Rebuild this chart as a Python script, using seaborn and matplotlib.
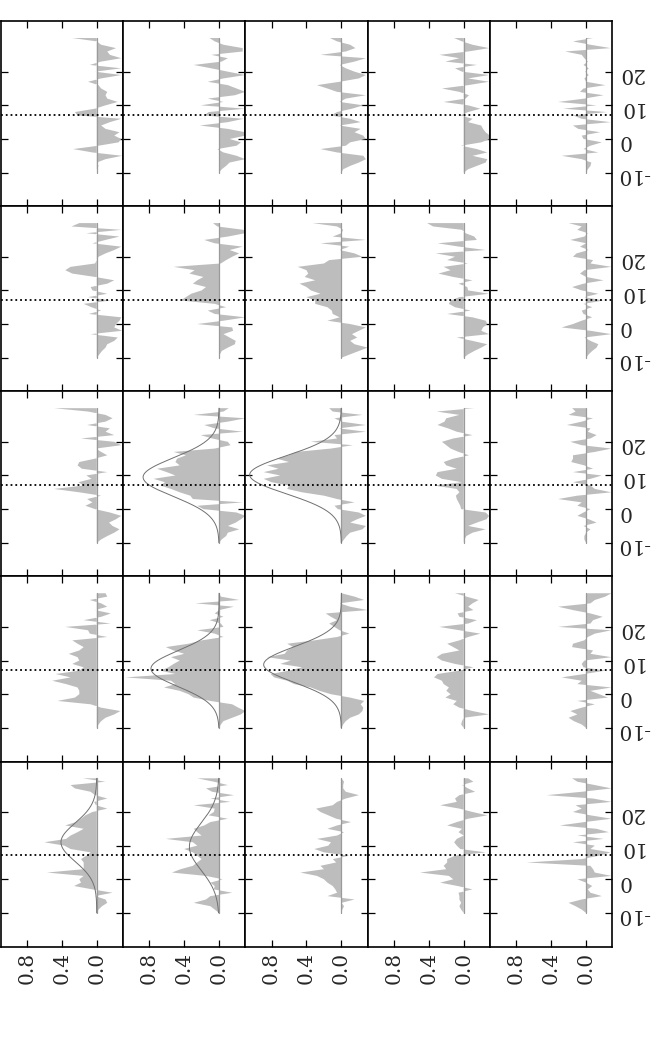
import numpy as np
import matplotlib
matplotlib.use("Agg")
import matplotlib.pyplot as plt
import seaborn as sns

sns.set_style("ticks")
plt.rcParams["font.family"] = ["DejaVu Serif"]
plt.rcParams["axes.unicode_minus"] = False

# sample positions shared by all 25 panels
t_grid = list(range(-10, 31))

# dotted reference line
true_value = 7.2

# panel values, row by row (top -> bottom), t = -10 .. 30
d11 = [0, 0, -0.02, 0, -0.1, -0.29, 0.05, 0.27, -0.02, -0.25,
       -0.28, -0.2, -0.26, -0.1, -0.05, -0.15, -0.28, 0.22, 0.25, 0.02,
       -0.1, -0.24, -0.12, -0.1, -0.12, -0.05, -0.02, 0.1, -0.05, -0.28,
       0.02, -0.28, 0.08, -0.05, -0.28, -0.15, -0.12, -0.22, -0.05, 0, 0.28]
d12 = [0, -0.03, -0.08, -0.12, -0.3, -0.2, -0.05, 0.02, -0.2, -0.25,
       -0.12, -0.3, -0.3, -0.1, 0.22, -0.1, -0.28, 0.17, 0.12, -0.3,
       0.21, -0.05, 0.13, -0.18, -0.3, -0.2, -0.1, 0.13, -0.05, -0.3,
       -0.1, 0.09, 0.29, -0.03, -0.1, 0.09, -0.27, -0.27, -0.05, 0.05, 0.11]
d13 = [0, -0.02, -0.1, -0.2, -0.28, -0.25, 0.05, 0.24, -0.05, -0.1,
       -0.28, -0.25, -0.15, -0.22, 0.02, -0.22, -0.1, 0.12, 0.05, -0.12,
       -0.25, 0.02, -0.05, -0.28, 0.05, 0.16, 0.28, 0.02, -0.2, -0.28,
       -0.15, -0.05, 0.02, -0.15, -0.28, 0.24, -0.05, -0.16, -0.1, 0.05, 0.13]
d14 = [0, -0.05, -0.15, -0.25, -0.27, -0.1, -0.27, -0.15, 0.03, -0.2,
       -0.3, -0.3, -0.25, -0.22, -0.2, -0.05, -0.1, 0.04, -0.05, -0.19,
       -0.05, 0.23, -0.02, -0.06, 0.05, 0.25, -0.05, -0.29, -0.05, -0.29,
       0.02, 0.1, -0.15, 0.21, 0.05, 0.28, -0.05, -0.29, -0.1, 0.02, 0.11]
d15 = [0, -0.02, -0.05, -0.06, 0.05, 0.28, -0.14, 0.03, -0.05, -0.18,
       0.03, 0.05, -0.16, 0.09, 0.15, -0.28, 0.05, 0.15, -0.24, 0.26,
       -0.12, 0.32, 0.02, -0.2, 0.07, 0.03, -0.22, 0.0, 0.02, -0.03,
       0.01, -0.03, 0.03, -0.02, 0.02, 0.05, 0.24, -0.28, -0.05, 0.15, -0.08]

d21 = [0, -0.03, -0.06, -0.1, -0.12, -0.2, -0.24, 0.07, -0.29, -0.2,
       -0.22, -0.26, -0.28, 0.09, -0.05, 0.06, 0.15, -0.16, 0.1, -0.12,
       0.05, 0.07, -0.12, -0.2, 0.02, 0.28, 0.36, 0.3, 0.02, 0.0,
       -0.02, -0.1, -0.2, -0.28, 0.05, -0.1, -0.26, 0.12, -0.28, 0.29, 0.2]
d22 = [0, -0.01, -0.03, -0.1, -0.18, -0.19, -0.12, -0.05, -0.16, -0.15,
       0.25, -0.05, -0.3, 0.05, 0.13, -0.08, 0.05, 0.44, 0.38, 0.32,
       0.2, 0.15, 0.3, 0.25, 0.18, 0.34, 0.28, 0.52, -0.02, -0.08,
       -0.15, -0.23, -0.12, -0.27, 0.05, 0.17, -0.1, -0.3, -0.28, 0.02, 0.07]
d23 = [0, -0.1, -0.2, -0.3, -0.15, -0.1, -0.18, -0.12, -0.2, -0.28,
       -0.1, 0.16, 0.02, 0.1, 0.11, 0.16, 0.3, 0.3, 0.4, 0.24,
       0.35, 0.4, 0.48, 0.3, 0.42, 0.38, 0.4, 0.5, 0.2, 0.14,
       -0.24, -0.15, 0.02, -0.09, 0.24, -0.28, 0.1, 0.0, -0.02, 0.05, 0.33]
d24 = [0, -0.05, -0.12, -0.2, -0.27, -0.1, 0.08, -0.29, -0.2, -0.22,
       -0.27, -0.25, -0.1, 0.19, -0.08, 0.1, 0.17, 0.15, 0.05, -0.29,
       -0.05, -0.04, 0.06, -0.1, 0.12, 0.29, 0.15, 0.23, -0.05, 0.19,
       0.1, 0.32, -0.25, 0.05, 0.3, -0.15, -0.12, -0.02, 0.02, 0.35, 0.42]
d25 = [0, -0.03, -0.07, -0.12, -0.14, -0.05, 0.02, -0.29, -0.05, 0.28,
       0.15, 0.05, -0.07, 0.03, 0.05, -0.07, 0.03, -0.2, 0.02, -0.14,
       0.05, 0.16, 0.03, -0.2, 0.0, 0.07, 0.02, -0.29, -0.05, -0.08,
       0.15, 0.11, -0.03, 0.07, 0.0, 0.18, 0.02, -0.02, 0.1, 0.05, 0.2]

d31 = [0, -0.05, -0.12, -0.2, -0.26, -0.18, -0.14, -0.22, -0.28, -0.15,
       0.02, 0.13, 0.05, 0.11, -0.05, 0.2, 0.49, 0.15, 0.21, 0.06,
       0.12, -0.12, 0.17, 0.22, 0.2, 0.02, -0.12, -0.05, 0.01, -0.28,
       -0.2, 0.18, -0.2, -0.1, -0.15, 0.11, -0.1, -0.18, -0.1, 0.1, 0.49]
d32 = [0, -0.03, -0.08, -0.1, -0.23, -0.1, -0.19, -0.25, -0.3, -0.2,
       0.18, 0.25, -0.27, 0.3, 0.33, 0.45, 0.55, 0.67, 0.62, 0.75,
       0.5, 0.6, 0.71, 0.45, 0.5, 0.48, 0.38, 0.52, 0.05, -0.13,
       -0.1, 0.08, 0.21, -0.27, 0.05, 0.17, -0.1, -0.3, 0.29, -0.05, -0.11]
d33 = [0, -0.03, -0.06, -0.1, -0.24, -0.28, -0.1, -0.18, -0.28, -0.2,
       0.04, 0.08, -0.15, 0.05, 0.2, 0.45, 0.62, 0.6, 0.8, 0.89,
       0.7, 0.89, 0.72, 0.85, 0.6, 0.74, 0.6, 0.52, 0.12, -0.13,
       0.35, 0.05, 0.08, -0.28, 0.03, -0.28, 0.0, 0.08, -0.24, 0.1, 0.14]
d34 = [0, -0.01, -0.03, -0.1, -0.25, -0.05, -0.15, -0.26, -0.29, -0.25,
       0.03, 0.04, 0.06, 0.08, 0.09, 0.05, 0.08, 0.34, 0.02, 0.25,
       0.32, 0.3, 0.08, 0.2, 0.23, 0.12, -0.06, 0.06, 0.15, 0.2,
       0.25, 0.12, -0.1, 0.08, 0.18, 0.3, 0.22, 0.2, 0.05, 0.31, -0.12]
d35 = [0, 0.02, 0.02, 0.0, -0.05, 0.03, -0.12, -0.03, 0.1, 0.03,
       -0.05, 0.1, 0.05, 0.32, 0.1, -0.29, -0.1, -0.05, 0.15, -0.05,
       -0.18, 0.15, -0.08, 0.02, 0.17, 0.15, 0.15, -0.1, -0.29, 0.05,
       0.18, -0.05, -0.12, -0.02, -0.05, 0.22, 0.05, -0.08, 0.2, 0.12, 0.16]

d41 = [0, -0.02, -0.05, -0.1, -0.2, -0.27, -0.05, 0.07, 0.45, 0.25,
       0.2, 0.2, 0.22, 0.35, 0.51, 0.3, 0.47, 0.2, 0.15, 0.28,
       0.2, 0.22, 0.32, 0.2, 0.15, 0.22, 0.28, -0.12, 0.08, 0.1,
       0.36, -0.16, 0.15, -0.05, -0.16, 0.02, -0.12, -0.05, 0.08, -0.12, -0.1]
d42 = [0, -0.02, -0.05, -0.15, -0.25, -0.3, -0.22, -0.15, 0.1, 0.29,
       0.35, 0.45, 0.63, 0.5, 0.55, 1.07, 0.5, 0.67, 0.58, 0.52,
       0.45, 0.55, 0.4, 0.52, 0.61, 0.35, 0.2, -0.05, 0.05, 0.25,
       -0.05, -0.02, 0.11, -0.05, 0.05, 0.0, -0.17, 0.27, -0.23, -0.02, 0.0]
d43 = [0, -0.02, -0.05, -0.1, -0.2, -0.24, -0.25, -0.22, -0.26, -0.1,
       0.12, 0.25, 0.35, 0.54, 0.62, 0.77, 0.81, 0.6, 0.45, 0.7,
       0.58, 0.85, 0.65, 0.62, 0.55, 0.62, 0.31, 0.05, -0.09, 0.02,
       0.08, 0.14, 0.05, 0.12, 0.18, -0.3, -0.1, 0.02, -0.26, -0.15, 0.0]
d44 = [0, 0.03, 0.02, 0.0, -0.29, -0.1, 0.05, 0.12, 0.08, 0.21,
       0.15, 0.2, 0.17, 0.23, 0.25, 0.34, 0.3, 0.05, -0.11, 0.1,
       0.25, 0.31, 0.25, 0.05, 0.12, 0.19, 0.05, -0.05, -0.19, 0.05,
       0.28, -0.05, -0.15, 0.05, 0.07, -0.11, -0.05, -0.1, -0.17, -0.03, 0.1]
d45 = [0, 0.05, 0.14, 0.2, 0.1, 0.18, 0.05, -0.1, 0.1, -0.25,
       -0.15, -0.05, -0.29, 0.1, 0.05, 0.28, 0.02, -0.22, 0.03, 0.05,
       0.02, -0.29, -0.05, -0.08, 0.16, 0.15, 0.02, -0.02, -0.1, -0.29,
       0.32, -0.05, -0.08, -0.19, -0.05, 0.15, 0.32, -0.05, -0.1, -0.22, -0.29]

d51 = [0, -0.02, -0.06, -0.12, -0.1, 0.02, -0.18, 0.05, 0.26, 0.18,
       0.2, 0.15, 0.57, 0.15, 0.15, 0.15, 0.18, 0.12, 0.07, 0.3,
       0.37, 0.6, 0.35, 0.3, 0.22, 0.15, 0.36, 0.24, 0.18, 0.13,
       0.05, -0.12, 0.01, 0.03, -0.12, 0.02, 0.07, 0.25, 0.3, -0.1, 0.16]
d52 = [0.0, 0.05, 0.1, 0.29, 0.15, 0.1, -0.15, 0.06, 0.05, 0.1,
       -0.04, 0.15, 0.54, 0.44, 0.3, 0.25, 0.2, 0.25, 0.3, 0.4,
       0.25, 0.3, 0.61, 0.2, 0.25, 0.29, 0.17, 0.1, -0.1, 0.12,
       0.06, 0.05, 0.29, -0.13, 0.1, -0.17, 0.08, 0.15, -0.1, 0.06, 0.25]
d53 = [0, -0.01, -0.03, 0.0, -0.15, 0.16, 0.05, 0.07, 0.1, 0.16,
       0.2, 0.28, 0.47, 0.2, 0.24, 0.06, 0.1, -0.09, 0.2, 0.31,
       0.15, 0.12, 0.28, 0.05, -0.03, 0.16, 0.05, -0.11, 0.06, 0.15,
       0.24, 0.29, 0.1, 0.05, -0.05, -0.2, -0.05, -0.02, -0.02, -0.03, 0.0]
d54 = [0, 0.03, 0.05, 0.03, 0.05, 0.05, 0.06, -0.1, 0.07, 0.27,
       0.12, 0.17, 0.5, 0.2, 0.23, 0.19, 0.19, 0.1, -0.25, 0.04,
       0.08, 0.11, 0.08, 0.0, 0.06, 0.02, 0.19, 0.08, -0.05, -0.27,
       -0.1, 0.05, 0.27, 0.08, 0.1, 0.05, -0.13, -0.05, 0.02, -0.11, -0.05]
d55 = [0, 0.05, 0.12, 0.2, 0.05, -0.18, -0.05, -0.02, -0.07, 0.0,
       0.1, -0.29, -0.1, -0.08, -0.05, 0.68, 0.05, -0.15, -0.28, -0.05,
       -0.1, 0.15, -0.2, 0.1, -0.26, -0.12, 0.3, 0.02, -0.29, -0.05,
       0.15, 0.05, 0.12, -0.29, -0.08, 0.45, 0.05, -0.29, -0.1, 0.1, 0.16]

# gaussian curves drawn over some panels: (row, col), mean, sigma, peak
fit_panels = [(2, 1), (2, 2), (3, 1), (3, 2), (4, 0), (4, 1)]
fit_mean = [9.5, 10.2, 7.6, 8.8, 11.0, 9.7]
fit_sigma = [5.7, 5.6, 5.3, 5.3, 5.7, 7.0]
fit_peak = [0.87, 1.05, 0.78, 0.89, 0.41, 0.34]

panels = [
    [d11, d12, d13, d14, d15],
    [d21, d22, d23, d24, d25],
    [d31, d32, d33, d34, d35],
    [d41, d42, d43, d44, d45],
    [d51, d52, d53, d54, d55],
]

t = np.array(t_grid, dtype=float)
t_fine = np.linspace(t.min(), t.max(), 300)

fig, axes = plt.subplots(5, 5, figsize=(6.67, 10.6), dpi=100)
fig.subplots_adjust(left=0.001, right=0.918, top=0.980, bottom=0.107,
                    wspace=0, hspace=0)

for r in range(5):
    for c in range(5):
        ax = axes[r, c]
        vals = np.array(panels[r][c])
        ax.fill_betweenx(t, 0, vals, facecolor="#bdbdbd", edgecolor="none", lw=0)
        sns.lineplot(x=np.zeros_like(t), y=t, orient="y", color="#9a9a9a",
                     lw=0.9, ax=ax)
        if (r, c) in fit_panels:
            k = fit_panels.index((r, c))
            curve = fit_peak[k] * np.exp(-0.5 * ((t_fine - fit_mean[k]) / fit_sigma[k]) ** 2)
            sns.lineplot(x=curve, y=t_fine, orient="y", color="#707070",
                         lw=0.7, ax=ax)
        ax.axhline(true_value, color="black", ls=":", lw=1.3)

        ax.set_xlim(1.1, -0.3)
        ax.set_ylim(-20, 35)
        ax.set_xticks([0.0, 0.4, 0.8])
        ax.set_yticks([-10, 0, 10, 20])
        ax.set_xlabel("")
        ax.set_ylabel("")
        for sp in ax.spines.values():
            sp.set_linewidth(1.2)
            sp.set_color("black")
        ax.tick_params(direction="in", length=5, width=0.9, color="black",
                       top=True, bottom=True, left=True, right=True,
                       labeltop=False, labelleft=False,
                       labelbottom=(r == 4), labelright=(c == 4),
                       labelsize=14.5, pad=4)
        ax.tick_params(axis="x", labelrotation=90)
        ax.tick_params(axis="y", labelrotation=180)

fig.savefig("out.png", dpi=100)
plt.close(fig)
